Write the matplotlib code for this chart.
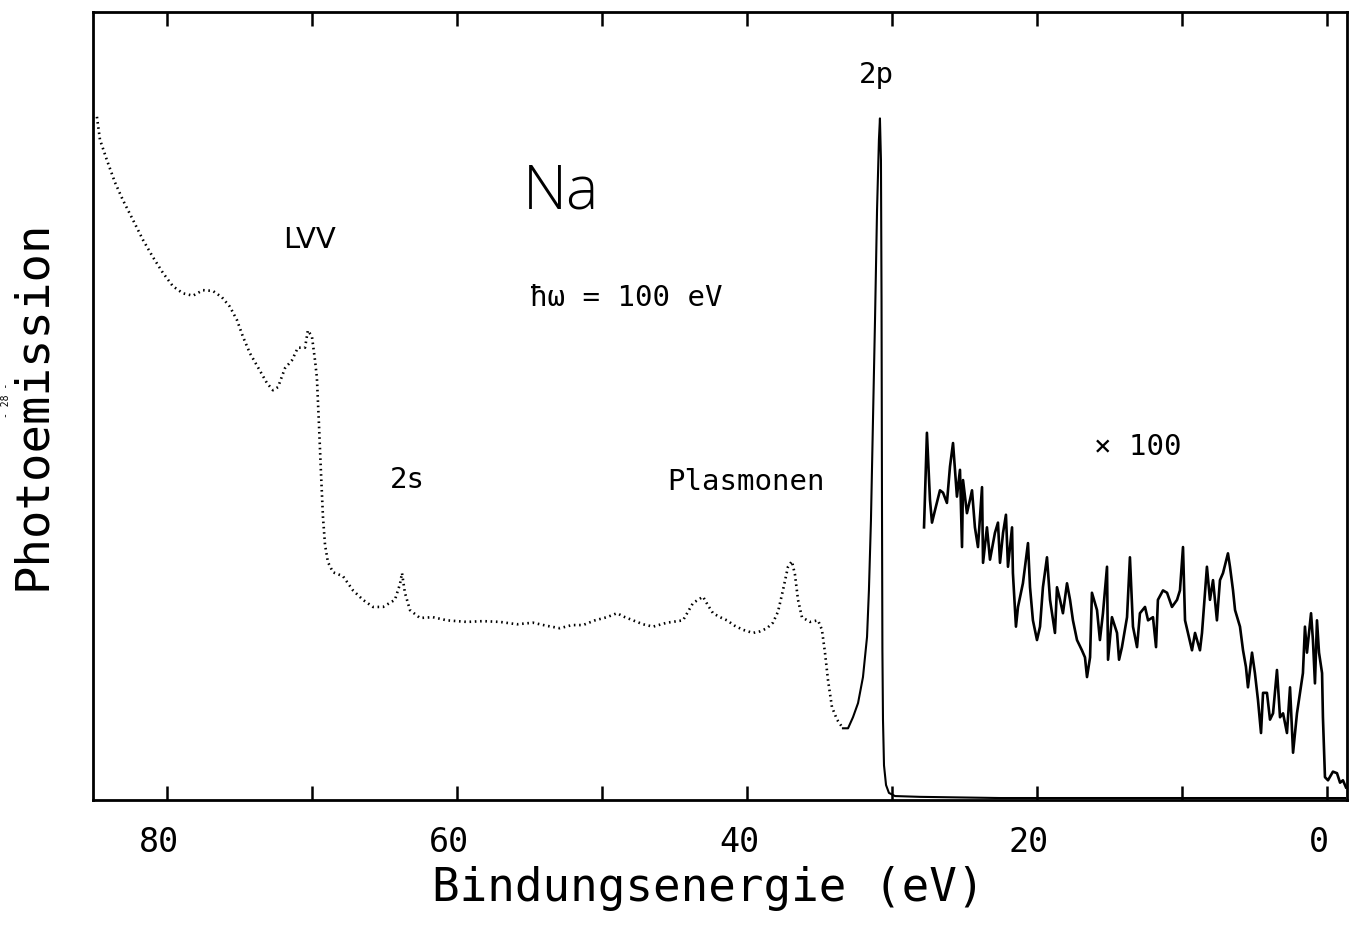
import matplotlib
matplotlib.use("Agg")
import matplotlib.pyplot as plt
import matplotlib.transforms as mtransforms

# ---------------- data (binding energy in eV, intensity in arb. units) ----------------
# dotted measured points (LVV Auger, 2s, plasmons) up to the minimum before 2p
dot_energy = [84.83, 84.62, 84.14, 83.59, 83.03, 82.34, 81.66, 80.97, 80.28, 79.59,
              78.90, 78.21, 77.52, 76.83, 76.21, 75.66, 75.17, 74.76, 74.28, 73.72,
              73.10, 72.69, 72.34, 71.86, 71.38, 70.97, 70.48, 70.28, 70.00, 69.79,
              69.66, 69.52, 69.38, 69.24, 69.10, 68.90, 68.55, 67.86, 67.17, 66.48,
              65.79, 65.10, 64.28, 63.93, 63.79, 63.59, 63.24, 62.55, 61.66, 60.69,
              59.31, 58.21, 57.03, 55.86, 54.76, 53.79, 52.90, 52.07, 51.31, 50.48,
              49.66, 48.97, 48.41, 47.86, 47.17, 46.48, 45.52, 44.41, 43.72, 43.03,
              42.69, 42.34, 41.86, 41.38, 40.83, 40.28, 39.59, 39.10, 38.62, 38.21,
              37.86, 37.52, 37.17, 36.90, 36.69, 36.48, 36.21, 35.66, 35.10, 34.83,
              34.62, 34.41, 34.14, 33.79, 33.38]
dot_intensity = [86.7, 83.8, 81.2, 78.4, 76.1, 73.6, 71.1, 68.9, 66.9, 65.2,
                 64.3, 64.0, 64.7, 64.6, 63.8, 62.6, 60.9, 58.8, 56.7, 54.9,
                 52.9, 52.0, 52.4, 54.8, 55.8, 57.4, 57.4, 59.6, 58.8, 55.8,
                 53.6, 47.8, 41.6, 35.9, 32.4, 30.2, 28.9, 28.4, 26.6, 25.4,
                 24.5, 24.5, 25.4, 27.4, 28.8, 26.3, 24.1, 23.1, 23.2, 22.8,
                 22.6, 22.7, 22.6, 22.3, 22.5, 22.1, 21.8, 22.2, 22.2, 22.8,
                 23.2, 23.7, 23.2, 22.8, 22.3, 22.0, 22.5, 22.8, 25.0, 25.8,
                 24.7, 23.7, 23.2, 22.8, 22.1, 21.6, 21.2, 21.4, 21.8, 22.5,
                 23.9, 26.6, 29.6, 30.3, 28.6, 25.4, 23.2, 22.6, 22.8, 21.6,
                 18.7, 15.2, 11.8, 10.2, 9.1]

# solid line: 2p core level and flat baseline
core_energy = [33.38, 33.03, 32.69, 32.34, 32.00, 31.72, 31.59, 31.45, 31.31, 31.17,
               31.03, 30.90, 30.83, 30.76, 30.72, 30.69, 30.66, 30.62, 30.55, 30.41,
               30.21, 29.79, 28.07, 22.55, 15.66, 8.76, 1.86, -1.24]
core_intensity = [9.1, 9.1, 10.5, 12.3, 15.6, 20.7, 26.6, 35.5, 48.2, 60.9,
                  74.9, 83.8, 86.5, 81.2, 63.5, 38.1, 19.0, 10.2, 4.4, 1.9,
                  0.9, 0.5, 0.4, 0.25, 0.25, 0.25, 0.25, 0.25]

# valence region magnified x100
val_energy = [27.79, 27.59, 27.38, 27.24, 27.03, 26.69, 26.48, 26.21, 26.00, 25.79,
              25.52, 25.31, 25.17, 25.10, 24.83, 24.62, 24.48, 24.28, 24.07, 23.79,
              23.72, 23.45, 23.24, 22.90, 22.69, 22.55, 22.34, 22.14, 22.00, 21.72,
              21.66, 21.45, 21.31, 20.97, 20.62, 20.48, 20.28, 20.00, 19.79, 19.59,
              19.31, 19.10, 18.76, 18.62, 18.41, 18.21, 17.93, 17.72, 17.52, 17.24,
              16.90, 16.69, 16.55, 16.34, 16.21, 15.86, 15.66, 15.45, 15.17, 15.10,
              14.83, 14.48, 14.34, 14.14, 13.79, 13.59, 13.38, 13.10, 12.90, 12.55,
              12.34, 12.00, 11.79, 11.66, 11.31, 11.03, 10.69, 10.34, 10.14, 9.93,
              9.79, 9.59, 9.31, 9.10, 8.76, 8.62, 8.41, 8.28, 8.07, 7.86,
              7.59, 7.38, 7.17, 6.83, 6.69, 6.48, 6.34, 6.00, 5.79, 5.59,
              5.45, 5.17, 4.97, 4.76, 4.55, 4.41, 4.14, 3.93, 3.72, 3.45,
              3.24, 3.03, 2.76, 2.55, 2.34, 2.07, 1.86, 1.66, 1.52, 1.38,
              1.10, 0.97, 0.83, 0.69, 0.55, 0.34, 0.28, 0.14, -0.07, -0.41,
              -0.69, -0.90, -1.10, -1.31]
val_intensity = [34.6, 46.6, 38.1, 35.2, 36.8, 39.3, 39.0, 37.7, 42.3, 45.3,
                 38.5, 41.9, 32.1, 40.6, 36.4, 38.1, 39.3, 34.6, 32.1, 39.7,
                 30.1, 34.6, 30.5, 33.9, 35.2, 30.1, 33.9, 36.2, 29.6, 34.6,
                 28.8, 22.0, 24.5, 27.5, 32.6, 27.0, 22.8, 20.3, 22.0, 27.0,
                 30.8, 25.4, 21.2, 27.0, 25.4, 23.7, 27.5, 25.4, 22.8, 20.3,
                 19.0, 18.1, 15.6, 18.1, 26.3, 24.1, 20.3, 23.7, 29.6, 17.8,
                 23.2, 21.2, 17.8, 19.4, 23.2, 30.8, 22.0, 19.4, 23.7, 24.5,
                 22.8, 23.2, 19.4, 25.4, 26.6, 26.3, 24.5, 25.4, 26.6, 32.1,
                 22.8, 21.2, 19.0, 21.2, 19.0, 21.2, 26.3, 29.6, 25.4, 27.9,
                 22.8, 27.9, 28.8, 31.3, 29.6, 26.6, 24.1, 22.0, 19.0, 16.9,
                 14.3, 18.7, 16.1, 12.7, 8.5, 13.6, 13.6, 10.2, 11.0, 16.5,
                 10.5, 11.0, 8.5, 14.3, 6.0, 11.0, 13.6, 16.1, 22.0, 18.7,
                 23.7, 20.3, 14.8, 22.8, 18.7, 16.1, 10.5, 2.9, 2.5, 3.6,
                 3.4, 2.2, 2.5, 1.6]

x_ticks = [80, 70, 60, 50, 40, 30, 20, 10, 0]
x_tick_labels = ["80", "", "60", "", "40", "", "20", "", "0"]

# ---------------- figure ----------------
W, H = 1354, 926
fig = plt.figure(figsize=(W / 100, H / 100), dpi=100)
ax = fig.add_axes([93 / W, 1 - 800 / H, (1347 - 93) / W, (800 - 12) / H])

ax.plot(dot_energy, dot_intensity, color="black", lw=1.9,
        linestyle=(0, (0.6, 1.4)), dash_capstyle="butt")
ax.plot(core_energy, core_intensity, color="black", lw=1.5)
ax.plot(val_energy, val_intensity, color="black", lw=1.9)

ax.set_xlim(85.1, -1.38)
ax.set_ylim(0, 100)

for s in ax.spines.values():
    s.set_linewidth(2.0)

mono = "DejaVu Sans Mono"
ax.set_xticks(x_ticks)
ax.set_xticklabels(x_tick_labels, family=mono, fontsize=24)
ax.set_yticks([])
ax.tick_params(axis="x", which="both", direction="in", length=10, width=1.8,
               top=True, bottom=True, pad=19)
offset = mtransforms.ScaledTranslation(-0.08, 0, fig.dpi_scale_trans)
for lab in ax.get_xticklabels():
    lab.set_transform(lab.get_transform() + offset)

ax.set_xlabel("Bindungsenergie (eV)", family=mono, fontsize=33, va="center")
ax.xaxis.set_label_coords(0.491, -0.112)
ax.set_ylabel("Photoemission", family=mono, fontsize=34, va="center")
ax.yaxis.set_label_coords(-0.048, 0.501)

ax.text(52.8, 77.0, "Na", family=["Open Sans", "DejaVu Sans"], fontweight="light",
        fontsize=44, ha="center", va="center")
ax.text(70.14, 71.1, "LVV", family=["DejaVu Sans"], fontsize=21,
        ha="center", va="center")
ax.text(48.34, 63.7, "ħω = 100 eV", family=mono, fontsize=21,
        ha="center", va="center")
ax.text(63.45, 40.6, "2s", family=mono, fontsize=21, ha="center", va="center")
ax.text(40.07, 40.4, "Plasmonen", family=mono, fontsize=21,
        ha="center", va="center")
ax.text(31.1, 92.0, "2p", family=mono, fontsize=21, ha="center", va="center")
ax.text(13.03, 44.8, "× 100", family=mono, fontsize=21, ha="center", va="center")

fig.text(6 / W, 1 - 400 / H, "- 28 -", rotation=90, fontsize=7,
         ha="center", va="center", family=mono)

fig.savefig("out.png", dpi=100, facecolor="white")
